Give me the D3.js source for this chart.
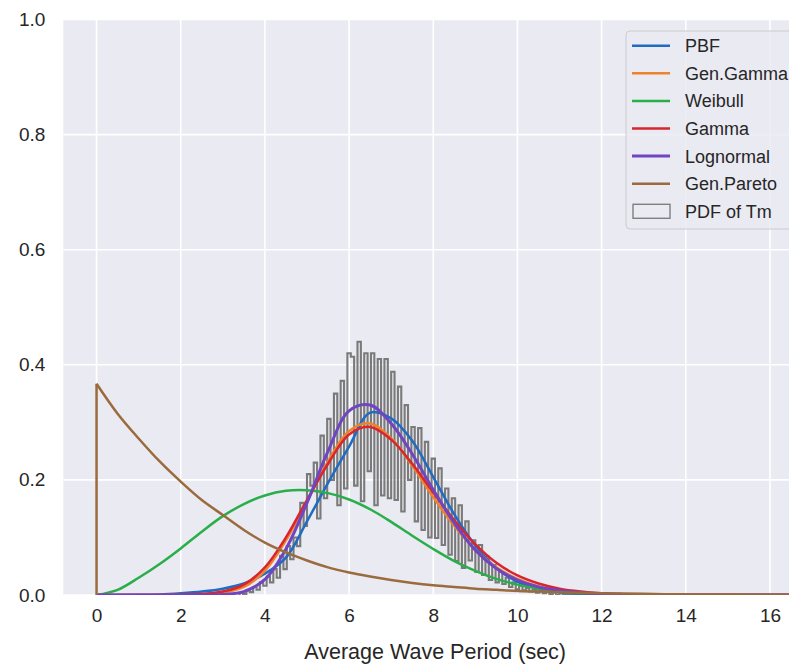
<!DOCTYPE html>
<html>
<head>
<meta charset="utf-8">
<script src="https://cdn.jsdelivr.net/npm/d3@7"></script>
<style>
    body { margin: 0; background: #ffffff; }
    text { font-family: "Liberation Sans", Arial, sans-serif; fill: #262626; }
</style>
</head>
<body>
<div id="chart"></div>
<script>
// wave period grid (sec) the fitted pdfs were read at
const periods = [0, 0.5, 1, 1.5, 2, 2.5, 3, 3.5, 4, 4.5, 5, 5.5, 6, 6.5, 7, 7.5, 8, 8.5,
    9, 9.5, 10, 10.5, 11, 11.5, 12, 12.5, 13, 13.5, 14, 14.5, 15, 15.5, 16, 16.5];

const pbfPdf = [0, 0, 0.0005, 0.001, 0.003, 0.006, 0.011, 0.02, 0.037, 0.065, 0.128, 0.195,
    0.258, 0.317, 0.307, 0.268, 0.205, 0.14, 0.086, 0.047, 0.023, 0.011, 0.005, 0.002,
    0.001, 0, 0, 0, 0, 0, 0, 0, 0, 0];
const genGammaPdf = [0, 0, 0, 0, 0, 0.001, 0.004, 0.014, 0.042, 0.095, 0.162, 0.232,
    0.285, 0.298, 0.272, 0.225, 0.17, 0.12, 0.079, 0.048, 0.028, 0.015, 0.008, 0.004,
    0.002, 0.001, 0, 0, 0, 0, 0, 0, 0, 0];
const weibullPdf = [0, 0.009, 0.03, 0.054, 0.081, 0.11, 0.137, 0.158, 0.173, 0.181, 0.182,
    0.177, 0.166, 0.149, 0.127, 0.103, 0.08, 0.059, 0.042, 0.028, 0.018, 0.011, 0.006,
    0.003, 0.0017, 0.0008, 0.0003, 0, 0, 0, 0, 0, 0, 0];
const gammaPdf = [0, 0, 0, 0, 0.001, 0.002, 0.006, 0.018, 0.048, 0.1, 0.165, 0.228, 0.279,
    0.292, 0.27, 0.228, 0.178, 0.13, 0.088, 0.056, 0.034, 0.02, 0.011, 0.006, 0.003,
    0.0015, 0.0007, 0, 0, 0, 0, 0, 0, 0];
const lognormalPdf = [0, 0, 0, 0, 0, 0, 0.001, 0.006, 0.027, 0.08, 0.16, 0.25, 0.32, 0.33,
    0.298, 0.245, 0.183, 0.125, 0.078, 0.046, 0.026, 0.014, 0.008, 0.004, 0.002, 0.001,
    0, 0, 0, 0, 0, 0, 0, 0];
const genParetoPdf = [0.367, 0.315, 0.272, 0.232, 0.197, 0.165, 0.139, 0.113, 0.091, 0.074,
    0.06, 0.048, 0.039, 0.032, 0.026, 0.021, 0.017, 0.014, 0.011, 0.009, 0.007, 0.006,
    0.005, 0.004, 0.003, 0.0025, 0.002, 0.0015, 0.001, 0.001, 0.0008, 0.0006, 0.0005, 0.0004];

const seriesNames = ["PBF", "Gen.Gamma", "Weibull", "Gamma", "Lognormal", "Gen.Pareto"];
const seriesColors = ["#1f6cc2", "#f0822c", "#2aae4a", "#d9252d", "#7045c2", "#9b6a3d"];

// empirical pdf of Tm, 100 bins of 0.08 s starting at 3.4 s
const histStart = 3.4;
const histBinWidth = 0.08;
const histDensity = [
    0.004, 0.002, 0.008, 0.005, 0.014, 0.009, 0.022, 0.016, 0.032, 0.022,
    0.045, 0.030, 0.068, 0.045, 0.085, 0.062, 0.100, 0.085, 0.160, 0.120,
    0.210, 0.190, 0.230, 0.133, 0.277, 0.168, 0.306, 0.200, 0.350, 0.156,
    0.372, 0.185, 0.420, 0.414, 0.190, 0.440, 0.163, 0.420, 0.215, 0.420,
    0.156, 0.410, 0.173, 0.410, 0.168, 0.388, 0.165, 0.362, 0.145, 0.330,
    0.200, 0.292, 0.128, 0.290, 0.113, 0.266, 0.100, 0.237, 0.099, 0.220,
    0.087, 0.185, 0.070, 0.168, 0.059, 0.156, 0.047, 0.128, 0.060, 0.095,
    0.040, 0.087, 0.035, 0.067, 0.026, 0.052, 0.022, 0.040, 0.019, 0.030,
    0.014, 0.022, 0.010, 0.016, 0.008, 0.012, 0.006, 0.009, 0.004, 0.007,
    0.003, 0.005, 0.002, 0.004, 0.001, 0.003, 0.001, 0.002, 0.000, 0.001];

const xTicks = [0, 2, 4, 6, 8, 10, 12, 14, 16];
const yTicks = [0, 0.2, 0.4, 0.6, 0.8, 1.0];

function chart() {
    let width = 789, height = 671;
    // plot box (right side runs past the window like the source figure)
    let left = 63.3, right = 807, top = 19.5, bottom = 595;

    let svg = d3.select("#chart").append("svg")
        .attr("width", width)
        .attr("height", height);

    let x = d3.scaleLinear().domain([-0.79, 16.88]).range([left, right]);
    let y = d3.scaleLinear().domain([0, 1]).range([bottom, top]);

    svg.append("defs").append("clipPath").attr("id", "plotclip")
        .append("rect").attr("x", left).attr("y", top - 2)
        .attr("width", right - left).attr("height", bottom - top + 2);

    svg.append("rect")
        .attr("x", left).attr("y", top)
        .attr("width", right - left).attr("height", bottom - top)
        .style("fill", "#eaeaf2");

    // grid
    svg.append("g").attr("class", "grid")
        .selectAll("line.gx").data(xTicks).enter().append("line")
        .attr("x1", d => x(d)).attr("x2", d => x(d))
        .attr("y1", top).attr("y2", bottom)
        .style("stroke", "#ffffff").style("stroke-width", 1.6);
    svg.append("g").attr("class", "grid")
        .selectAll("line.gy").data(yTicks).enter().append("line")
        .attr("x1", left).attr("x2", right)
        .attr("y1", d => y(d)).attr("y2", d => y(d))
        .style("stroke", "#ffffff").style("stroke-width", 1.6);

    // axes, no domain line and no tick marks (darkgrid look)
    let xAxis = svg.append("g")
        .attr("transform", "translate(0," + bottom + ")")
        .call(d3.axisBottom(x).tickValues(xTicks).tickSize(0).tickPadding(14).tickFormat(d3.format("d")));
    let yAxis = svg.append("g")
        .attr("transform", "translate(" + left + ",0)")
        .call(d3.axisLeft(y).tickValues(yTicks).tickSize(0).tickPadding(18).tickFormat(d3.format(".1f")));
    [xAxis, yAxis].forEach(function(a) {
        a.select(".domain").remove();
        a.selectAll("text").style("font-size", "19px")
            .style("font-family", "'Liberation Sans', Arial, sans-serif").style("fill", "#262626");
    });

    svg.append("text")
        .attr("x", (left + right) / 2).attr("y", 659)
        .attr("text-anchor", "middle")
        .style("font-size", "21.5px")
        .text("Average Wave Period (sec)");

    let plot = svg.append("g").attr("clip-path", "url(#plotclip)");

    // histogram drawn as a step outline
    let steps = [[histStart, 0]];
    histDensity.forEach(function(v, i) {
        steps.push([histStart + i * histBinWidth, v]);
        steps.push([histStart + (i + 1) * histBinWidth, v]);
    });
    steps.push([histStart + histDensity.length * histBinWidth, 0]);
    plot.append("path")
        .datum(steps)
        .attr("d", d3.line().x(d => x(d[0])).y(d => y(d[1])))
        .style("fill", "none")
        .style("stroke", "#7a7a7a")
        .style("stroke-width", 2.1);

    let curves = [pbfPdf, genGammaPdf, weibullPdf, gammaPdf, lognormalPdf, genParetoPdf];
    let line = d3.line()
        .x((d, i) => x(periods[i]))
        .y(d => y(Math.max(0, d)))
        .curve(d3.curveCatmullRom.alpha(0.5));

    curves.forEach(function(values, k) {
        if (seriesNames[k] == "Gen.Pareto") {
            // pareto jumps straight up at 0
            plot.append("line")
                .attr("x1", x(0)).attr("x2", x(0))
                .attr("y1", y(0)).attr("y2", y(values[0]))
                .style("stroke", seriesColors[k]).style("stroke-width", 2.5);
        }
        plot.append("path")
            .datum(values)
            .attr("d", line)
            .style("fill", "none")
            .style("stroke", seriesColors[k])
            .style("stroke-width", seriesNames[k] == "Lognormal" ? 3 : 2.5)
            .style("stroke-linejoin", "round");
    });

    // legend
    let lx = 626, ly = 31, rowH = 27.6;
    let legend = svg.append("g");
    legend.append("rect")
        .attr("x", lx).attr("y", ly)
        .attr("width", 174).attr("height", 198)
        .attr("rx", 4)
        .style("fill", "#eaeaf2").style("fill-opacity", 0.85)
        .style("stroke", "#cccccc").style("stroke-width", 1);

    let labels = seriesNames.concat(["PDF of Tm"]);
    let rows = legend.selectAll(".row").data(labels).enter().append("g")
        .attr("transform", (d, i) => "translate(0," + (ly + 14.7 + i * rowH) + ")");

    rows.filter((d, i) => i < seriesNames.length).append("line")
        .attr("x1", lx + 6).attr("x2", lx + 44)
        .attr("y1", 0).attr("y2", 0)
        .style("stroke", (d, i) => seriesColors[i])
        .style("stroke-width", (d, i) => seriesNames[i] == "Lognormal" ? 3 : 2.5);

    rows.filter((d, i) => i == seriesNames.length).append("rect")
        .attr("x", lx + 7).attr("y", -7)
        .attr("width", 37).attr("height", 14)
        .style("fill", "none")
        .style("stroke", "#7f7f7f").style("stroke-width", 1.4);

    rows.append("text")
        .attr("x", lx + 59).attr("y", 6.5)
        .style("font-size", "18px")
        .text(d => d);
}

chart();
</script>
</body>
</html>
